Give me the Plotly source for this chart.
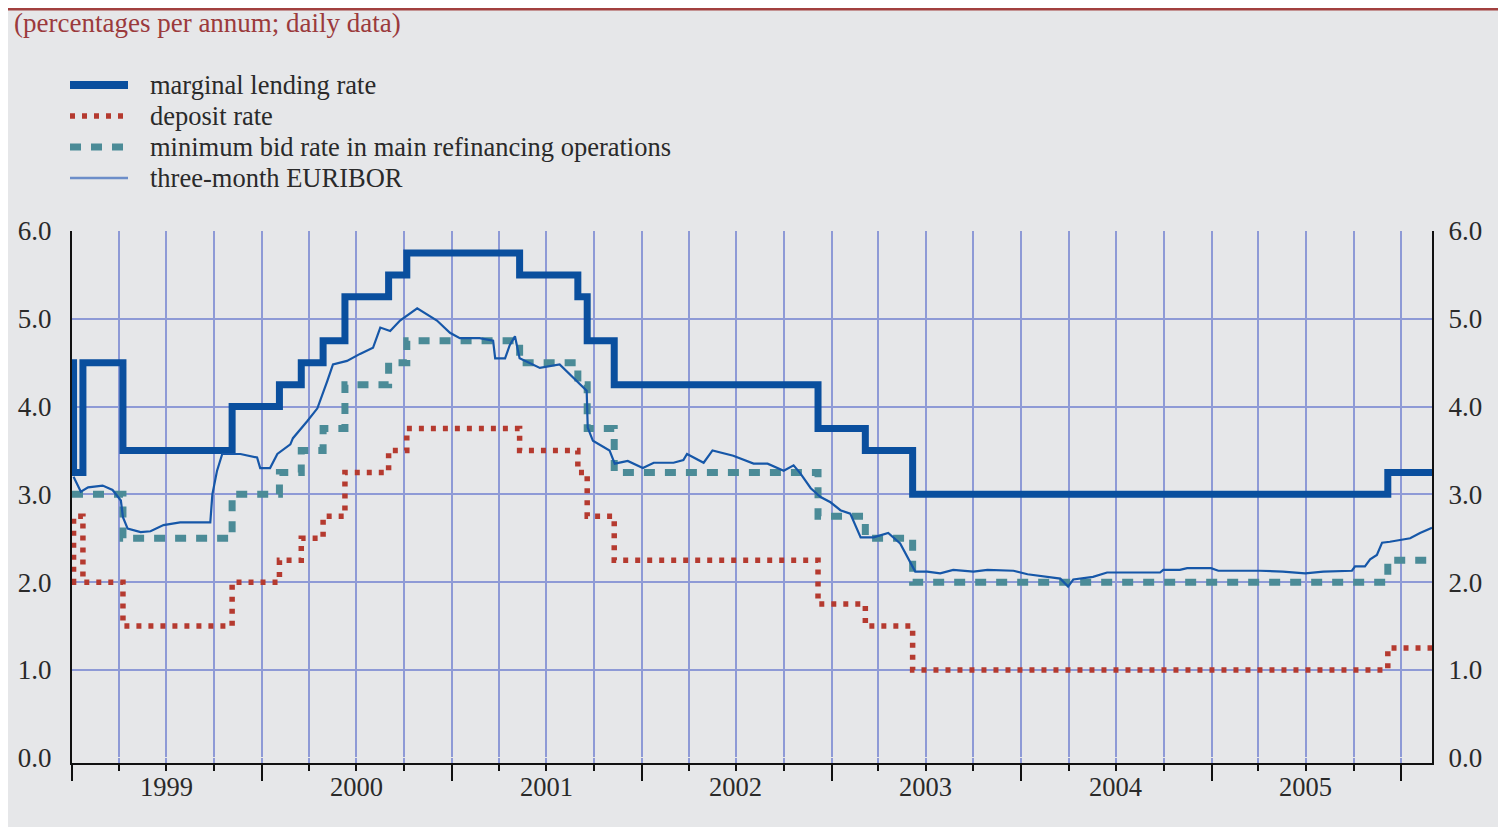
import plotly.graph_objects as go

# ---------------- data ----------------
policy_dates = ["1999-01-01", "1999-01-04", "1999-01-22", "1999-04-09", "1999-11-05",
                "2000-02-04", "2000-03-17", "2000-04-28", "2000-06-09", "2000-09-01", "2000-10-06",
                "2001-05-11", "2001-08-31", "2001-09-18", "2001-11-09",
                "2002-12-06", "2003-03-07", "2003-06-06", "2005-12-06"]
marginal_lending = [4.50, 3.25, 4.50, 3.50, 4.00, 4.25, 4.50, 4.75, 5.25, 5.50, 5.75,
                    5.50, 5.25, 4.75, 4.25, 3.75, 3.50, 3.00, 3.25]
deposit_rate = [2.00, 2.75, 2.00, 1.50, 2.00, 2.25, 2.50, 2.75, 3.25, 3.50, 3.75,
                3.50, 3.25, 2.75, 2.25, 1.75, 1.50, 1.00, 1.25]
min_bid_rate = [3.00, 3.00, 3.00, 2.50, 3.00, 3.25, 3.50, 3.75, 4.25, 4.50, 4.75,
                4.50, 4.25, 3.75, 3.25, 2.75, 2.50, 2.00, 2.25]

euribor_dates = [
    "1999-01-04", "1999-01-12", "1999-01-18", "1999-02-01", "1999-03-01", "1999-03-20", "1999-04-05",
    "1999-04-09", "1999-04-18", "1999-05-13", "1999-06-01", "1999-06-26", "1999-07-28", "1999-08-30",
    "1999-09-24", "1999-09-28", "1999-10-07", "1999-10-17", "1999-11-21", "1999-12-23", "1999-12-29",
    "2000-01-17", "2000-01-31", "2000-02-25", "2000-03-01", "2000-03-28", "2000-04-17", "2000-05-06",
    "2000-05-17", "2000-06-13", "2000-07-08", "2000-08-02", "2000-08-16", "2000-09-04", "2000-09-23",
    "2000-10-26", "2000-12-03", "2000-12-28",
    "2001-01-16", "2001-02-23", "2001-03-21", "2001-03-25", "2001-04-13", "2001-04-22", "2001-05-02",
    "2001-05-11", "2001-06-19", "2001-07-27", "2001-09-03", "2001-09-17", "2001-09-19", "2001-09-29",
    "2001-10-31", "2001-11-10", "2001-12-05",
    "2002-01-03", "2002-01-24", "2002-03-03", "2002-03-22", "2002-03-29", "2002-04-30", "2002-05-17",
    "2002-06-26", "2002-08-04", "2002-08-31", "2002-10-01", "2002-10-20", "2002-11-02", "2002-11-22",
    "2002-12-11", "2002-12-30",
    "2003-01-18", "2003-02-06", "2003-02-26", "2003-03-23", "2003-04-20", "2003-05-13", "2003-05-27",
    "2003-06-11", "2003-07-04", "2003-07-29", "2003-08-23", "2003-10-01", "2003-10-28", "2003-12-17",
    "2004-01-13", "2004-02-20", "2004-03-16", "2004-03-31", "2004-04-10", "2004-05-18", "2004-06-14",
    "2004-09-24", "2004-09-30", "2004-11-01", "2004-11-15", "2004-12-31",
    "2005-01-14", "2005-04-04", "2005-05-18", "2005-06-30", "2005-08-04", "2005-09-28", "2005-10-04",
    "2005-10-23", "2005-11-02", "2005-11-15", "2005-11-25", "2005-12-10", "2005-12-28",
    "2006-01-18", "2006-02-06", "2006-03-01"]
euribor_3m = [
    3.20, 3.10, 3.03, 3.08, 3.10, 3.05, 2.93, 2.74, 2.61, 2.57, 2.58, 2.65, 2.68, 2.68,
    2.68, 3.00, 3.27, 3.46, 3.46, 3.42, 3.30,
    3.30, 3.46, 3.57, 3.64, 3.83, 3.98, 4.29, 4.48, 4.52, 4.60, 4.67, 4.90, 4.86, 4.98,
    5.12, 4.98, 4.84,
    4.78, 4.78, 4.75, 4.55, 4.55, 4.70, 4.80, 4.55, 4.44, 4.48, 4.26, 4.18, 3.76, 3.61,
    3.50, 3.35, 3.38,
    3.30, 3.36, 3.36, 3.39, 3.46, 3.36, 3.50, 3.44, 3.35, 3.35, 3.27, 3.33, 3.24, 3.07,
    2.97, 2.91,
    2.82, 2.78, 2.51, 2.51, 2.56, 2.44, 2.29, 2.12, 2.12, 2.10, 2.14, 2.12, 2.14, 2.13,
    2.09, 2.06, 2.04, 1.95, 2.03, 2.06, 2.11, 2.11, 2.14, 2.14, 2.16, 2.16,
    2.13, 2.13, 2.12, 2.10, 2.12, 2.13, 2.18, 2.18, 2.26, 2.31, 2.45, 2.46, 2.48,
    2.50, 2.56, 2.62]

x_start, x_end = "1999-01-01", "2006-03-01"
years = list(range(1999, 2006))
year_labels = [str(y) for y in years]
y_ticks = [0, 1, 2, 3, 4, 5, 6]
y_ticktext = [f"{v:.1f}" for v in y_ticks]

series_names = ["marginal lending rate", "deposit rate",
                "minimum bid rate in main refinancing operations", "three-month EURIBOR"]

# ---------------- styling ----------------
OFF = 8                      # default page body margin
W, H = 1506 - OFF, 827 - OFF
L, R, T, B = 64, 74, 223, 64
BG = "#e6e7e9"
GRID = "#8e9ad6"
C_LEND = "#0a4f9e"
C_DEP = "#b53a2f"
C_BID = "#4b8b97"
C_EUR = "#1657a8"
C_EUR_LEG = "#6d8ec9"
FONT = "Liberation Serif"
DOT = "5px,7px"
DASH = "11px,10px"


def px_x(page_px):
    return (page_px - OFF - L) / (W - L - R)


def px_y(page_py):
    return (H - B - (page_py - OFF)) / (H - T - B)


def extend(dates, vals):
    return list(dates) + [x_end], list(vals) + [vals[-1]]


quarters = [f"{y}-{m:02d}-01" for y in range(1999, 2007) for m in (4, 7, 10)
            if f"{y}-{m:02d}-01" < x_end]
year_starts = [f"{y}-01-01" for y in range(1999, 2007)]

fig = go.Figure()

xb, yb = extend(policy_dates, min_bid_rate)
fig.add_trace(go.Scatter(x=xb, y=yb, mode="lines", line_shape="hv", name=series_names[2],
                         line=dict(color=C_BID, width=7, dash=DASH)))
xd, yd = extend(policy_dates, deposit_rate)
fig.add_trace(go.Scatter(x=xd, y=yd, mode="lines", line_shape="hv", name=series_names[1],
                         line=dict(color=C_DEP, width=5.5, dash=DOT)))
xl, yl = extend(policy_dates, marginal_lending)
fig.add_trace(go.Scatter(x=xl, y=yl, mode="lines", line_shape="hv", name=series_names[0],
                         line=dict(color=C_LEND, width=7)))
fig.add_trace(go.Scatter(x=euribor_dates, y=euribor_3m, mode="lines", name=series_names[3],
                         yaxis="y2", line=dict(color=C_EUR, width=2.2)))

yrange = [-0.06, 6.0]

fig.update_layout(
    width=W, height=H,
    margin=dict(l=L, r=R, t=T, b=B, autoexpand=False),
    paper_bgcolor=BG, plot_bgcolor=BG,
    showlegend=False,
    font=dict(family=FONT, size=26, color="#2a2a2a"),
    xaxis=dict(type="date", range=[x_start, x_end], automargin=False,
               tickvals=year_starts, ticktext=[""] * len(year_starts),
               ticks="outside", ticklen=16, tickwidth=2, tickcolor="#111",
               showgrid=True, gridcolor=GRID, gridwidth=1.5,
               showline=True, linecolor="#111", linewidth=2, zeroline=False,
               minor=dict(tickvals=quarters, ticks="outside", ticklen=6, tickwidth=2,
                          tickcolor="#111", showgrid=True, gridcolor=GRID, gridwidth=1.5)),
    yaxis=dict(range=yrange, tickvals=y_ticks, ticktext=y_ticktext, automargin=False,
               showgrid=True, gridcolor=GRID, gridwidth=1.5,
               zeroline=True, zerolinecolor=BG, zerolinewidth=1,
               showline=True, linecolor="#111", linewidth=2,
               ticks="", ticklabelstandoff=13, tickfont=dict(size=27)),
    yaxis2=dict(range=yrange, overlaying="y", side="right", tickvals=y_ticks, ticktext=y_ticktext,
                automargin=False,
                showgrid=False, zeroline=False, showline=True, linecolor="#111", linewidth=2,
                ticks="", ticklabelstandoff=9, tickfont=dict(size=27)),
)

shapes = []
annotations = []
# top rule
shapes.append(dict(type="rect", xref="paper", yref="paper", x0=px_x(OFF), x1=px_x(1506),
                   y0=px_y(OFF + 2.5), y1=px_y(OFF), fillcolor="#a2403f", line=dict(width=0),
                   layer="above"))

# subtitle
annotations.append(dict(text="(percentages per annum; daily data)", xref="paper", yref="paper",
                        x=px_x(12), y=px_y(23), xanchor="left", yanchor="middle", showarrow=False,
                        font=dict(family=FONT, size=27, color="#9b3a3c")))

# legend (manual)
leg_rows = [85, 116, 147, 178]
leg_styles = [dict(color=C_LEND, width=8), dict(color=C_DEP, width=5.5, dash=DOT),
              dict(color=C_BID, width=7, dash=DASH), dict(color=C_EUR_LEG, width=2.5)]
for name, row, st in zip(series_names, leg_rows, leg_styles):
    shapes.append(dict(type="line", xref="paper", yref="paper", x0=px_x(70), x1=px_x(128),
                       y0=px_y(row), y1=px_y(row), line=st))
    annotations.append(dict(text=name, xref="paper", yref="paper", x=px_x(148), y=px_y(row),
                            xanchor="left", yanchor="middle", showarrow=False,
                            font=dict(family=FONT, size=26.5, color="#2a2a2a")))

# year labels centred in each year
for y, lab in zip(years, year_labels):
    annotations.append(dict(text=lab, xref="x", yref="paper", x=f"{y}-07-01", y=px_y(787),
                            xanchor="center", yanchor="middle", showarrow=False,
                            font=dict(family=FONT, size=26.5, color="#2a2a2a")))

fig.update_layout(shapes=shapes, annotations=annotations)
fig.write_html("out.html")
